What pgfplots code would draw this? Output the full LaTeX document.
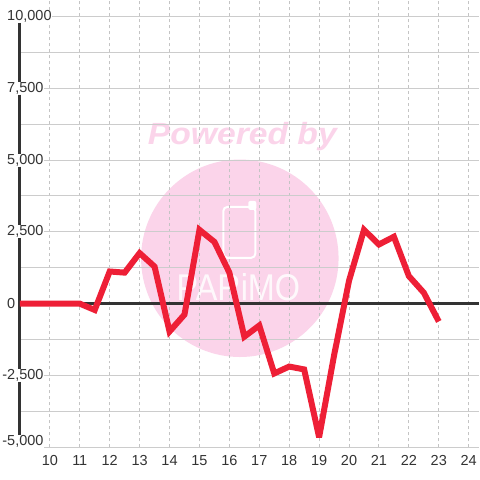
\documentclass[border=0pt]{standalone}
\usepackage{fontspec}
\setmainfont{Liberation Sans}
\usepackage{pgfplots}
\pgfplotsset{compat=1.18}
\definecolor{linered}{HTML}{EE1F36}
\definecolor{wm}{HTML}{FBD4EA}
\definecolor{txt}{HTML}{333333}
\definecolor{gridc}{HTML}{CCCCCC}
\definecolor{gridv}{HTML}{C4C4C4}
\begin{document}
\begin{tikzpicture}
\fill[white] (0,0) rectangle (360pt,360pt);
% watermark (pixel coordinates, origin top-left)
\begin{scope}[x=0.75pt,y=-0.75pt,yshift=360pt]
  \fill[wm] (240.5,258.5) circle[radius=74.25pt];
  \node[text=wm, anchor=base, inner sep=0pt, xscale=1.1,
        font=\fontsize{23pt}{23pt}\selectfont\bfseries\itshape] at (243,144) {Powered by};
  \draw[white, line width=1.5pt, rounded corners=3pt] (224,207) rectangle (256,258);
  \fill[white, rounded corners=1.5pt] (249,201) rectangle (257,210);
  \node[text=white, opacity=0.85, anchor=base, inner sep=0pt, xscale=0.87,
        font=\fontsize{28pt}{28pt}\selectfont] at (239,301) {PARiMO};
\end{scope}
\begin{axis}[
  at={(15pt,24pt)}, anchor=south west,
  scale only axis, width=345pt, height=336pt,
  xmin=9, xmax=24.3333, ymin=-5000, ymax=10555,
  clip=false,
  axis line style={draw=none},
  major tick length=0pt,
  scaled y ticks=false, scaled x ticks=false,
  xtick={10,11,12,13,14,15,16,17,18,19,20,21,22,23,24},
  xticklabels={10,11,12,13,14,15,16,17,18,19,20,21,22,23,24},
  ytick={-5000,-3750,-2500,-1250,0,1250,2500,3750,5000,6250,7500,8750,10000},
  yticklabels={{},{},{\llap{-}2,500},{},{0},{},{2,500},{},{5,000},{},{7,500},{},{10,000}},
  xmajorgrids, ymajorgrids,
  x grid style={gridv, line width=0.75pt, dash pattern=on 2.25pt off 2.25pt},
  y grid style={gridc, line width=0.75pt},
  tick label style={font=\fontsize{10.9pt}{13pt}\selectfont, text=txt},
  yticklabel style={anchor=west, xshift=-9.75pt, inner xsep=0pt, inner ysep=0.4pt, fill=white},
  xticklabel style={anchor=north, inner sep=0pt, yshift=-6pt},
]
% y axis line, broken where the tick labels sit
\draw[txt, line width=2.25pt] (axis cs:9,9775) -- (axis cs:9,7725)
      (axis cs:9,7275) -- (axis cs:9,5225)
      (axis cs:9,4775) -- (axis cs:9,2725)
      (axis cs:9,2275) -- (axis cs:9,-2275)
      (axis cs:9,-2725) -- (axis cs:9,-4570);
\node[anchor=west, inner xsep=0pt, inner ysep=0.4pt, fill=white, text=txt,
      font=\fontsize{10.9pt}{13pt}\selectfont, xshift=-9.75pt, yshift=4.5pt]
      at (axis cs:9,-5000) {\llap{-}5,000};
\draw[txt, line width=2pt] (axis cs:9,0) -- (axis cs:24.3333,0);
\addplot[linered, line width=4.5pt, line join=miter, miter limit=4] coordinates {
(9,0) (9.5,0) (10,0) (10.5,0) (11,0) (11.5,-220)
(12,1120) (12.5,1080) (13,1760) (13.5,1290)
(14,-970) (14.5,-380) (15,2570) (15.5,2150)
(16,1080) (16.5,-1150) (17,-760) (17.5,-2430)
(18,-2190) (18.5,-2290) (19,-4650) (19.5,-1800)
(20,800) (20.5,2570) (21,2060) (21.5,2330)
(22,960) (22.5,380) (23,-620)
};
\end{axis}
\end{tikzpicture}
\end{document}
